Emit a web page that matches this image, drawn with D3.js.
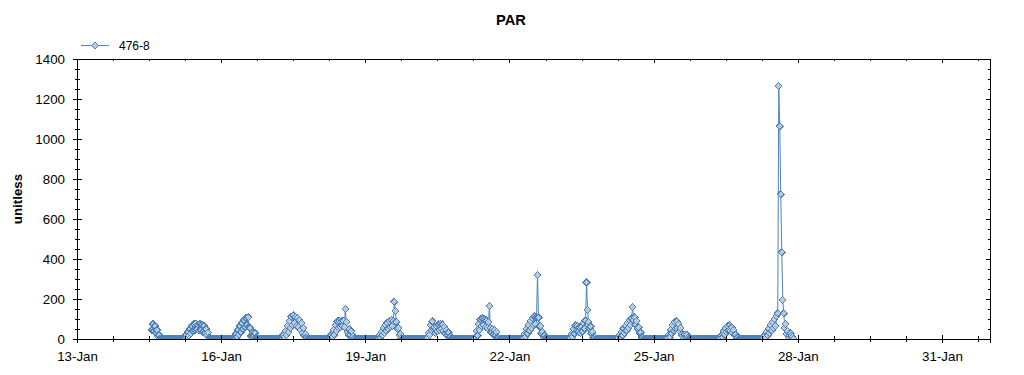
<!DOCTYPE html>
<html>
<head>
<meta charset="utf-8">
<script src="https://cdn.jsdelivr.net/npm/d3@7"></script>
<style>
  html, body { margin: 0; padding: 0; background: #fff; }
  svg { display: block; font-family: "Liberation Sans", Arial, sans-serif; }
</style>
</head>
<body>
<svg id="chart" width="1024" height="375"></svg>
<script>
// ---------------- DATA ----------------
const chartTitle = "PAR";
const yAxisTitle = "unitless";
const seriesName = "476-8";
const sampleStart = "2010-01-14T13:30";   // first sample
const stepMinutes = 30;                    // sampling interval

// values per day (half-hour samples; jan14 begins at 13:30, others at 00:00)
const jan14 = [45,75,40,65,30,45,12,20,0, 0,0,0,0,0,0,0,0,0,0,0,0];
const jan15 = [0,0,0,0,0,0,0,0,0,0,0,0,
  5,20,8,35,18,50,28,65,40,75,45,78,50,72,42,75,45,70,35,65,30,50,18,32,8,6,0,
  0,0,0,0,0,0,0,0,0];
const jan16 = [0,0,0,0,0,0,0,0,0,0,0,0,0,0,
  5,25,10,45,22,65,35,80,50,95,60,105,70,108,60,55,15,10,32,15,30,8,6,0,
  0,0,0,0,0,0,0,0,0,0];
const jan17 = [0,0,0,0,0,0,0,0,0,0,0,0,0,
  5,22,8,40,20,65,35,90,55,112,70,118,80,110,65,105,60,95,45,80,30,55,18,25,6,0,
  0,0,0,0,0,0,0,0,0];
const jan18 = [0,0,0,0,0,0,0,0,0,0,0,0,0,
  5,22,8,45,22,70,40,88,55,92,60,90,65,92,60,150,85,35,20,48,18,38,10,15,4,0,
  0,0,0,0,0,0,0,0,0];
const jan19 = [0,0,0,0,0,0,0,0,0,0,0,0,0,
  5,18,6,35,18,55,30,70,42,82,52,90,60,95,65,90,187,140,87,50,55,20,25,4,0,
  0,0,0,0,0,0,0,0,0,0];
const jan20 = [0,0,0,0,0,0,0,0,0,0,0,0,0,0,
  5,30,20,70,45,88,50,58,30,65,38,72,45,75,50,72,40,60,28,45,18,32,8,12,2,0,
  0,0,0,0,0,0,0,0];
const jan21 = [0,0,0,0,0,0,0,0,0,0,0,0,0,0,
  10,40,18,75,45,98,65,102,70,98,60,92,55,85,165,55,32,50,22,45,18,35,8,6,0,
  0,0,0,0,0,0,0,0,0];
const jan22 = [0,0,0,0,0,0,0,0,0,0,0,0,0,0,
  5,25,10,50,28,70,42,90,55,105,70,112,75,108,320,108,62,65,28,35,10,18,4,3,0,
  0,0,0,0,0,0,0,0,0];
const jan23 = [0,0,0,0,0,0,0,0,0,0,0,0,0,
  5,25,10,50,28,68,40,65,38,58,30,60,38,80,52,92,283,145,85,52,62,28,35,8,6,0,
  0,0,0,0,0,0,0,0,0];
const jan24 = [0,0,0,0,0,0,0,0,0,0,0,0,0,
  5,20,6,35,18,52,30,66,42,80,55,95,70,102,160,95,108,72,90,52,58,28,32,8,6,0,
  0,0,0,0,0,0,0,0,0];
const jan25 = [0,0,0,0,0,0,0,0,0,0,0,0,0,0,
  5,22,8,46,28,70,42,85,52,88,55,75,38,55,20,15,5,22,8,22,6,0,
  0,0,0,0,0,0,0,0,0,0,0,0];
const jan26 = [0,0,0,0,0,0,0,0,0,0,0,0,0,0,0,0,0,0,0,
  5,18,8,38,22,55,35,65,42,68,40,58,30,45,18,22,6,5,0,
  0,0,0,0,0,0,0,0,0,0];
const jan27 = [0,0,0,0,0,0,0,0,0,0,0,0,0,0,
  5,18,6,35,18,52,30,70,42,85,55,100,65,115,128,1265,1063,723,433,195,128,55,75,25,40,8,18,28,15,10,0];

const xDomain = ["2010-01-13T00:00", "2010-02-01T00:00"];
const xTickDates = ["2010-01-13T00:00","2010-01-16T00:00","2010-01-19T00:00","2010-01-22T00:00",
                    "2010-01-25T00:00","2010-01-28T00:00","2010-01-31T00:00"];
const xTickLabels = ["13-Jan","16-Jan","19-Jan","22-Jan","25-Jan","28-Jan","31-Jan"];
const xMinorStepHours = 18;
const yTicks = [0,200,400,600,800,1000,1200,1400];
const yMinorStep = 50;
const yMax = 1400;

// ---------------- BUILD ----------------
const parse = d3.utcParse("%Y-%m-%dT%H:%M");
const t0 = parse(sampleStart).getTime();
const allValues = [].concat(jan14, jan15, jan16, jan17, jan18, jan19, jan20,
                            jan21, jan22, jan23, jan24, jan25, jan26, jan27);
const data = allValues.map((v, i) => ({ t: new Date(t0 + i * stepMinutes * 60000), v }));

const lineColor = "#4f81bd";
const markerFill = "#b9cbd8";

const svg = d3.select("#chart");
const L = 77, R = 990, T = 59, B = 339;

const x = d3.scaleUtc().domain(xDomain.map(parse)).range([L, R]);
const y = d3.scaleLinear().domain([0, yMax]).range([B, T]);

// Title
svg.append("text").attr("x", 511).attr("y", 25).attr("text-anchor", "middle")
  .attr("font-size", "14.67px").attr("font-weight", "bold").text(chartTitle);

// Y axis title
svg.append("text").attr("transform", `translate(22,${(T + B) / 2}) rotate(-90)`)
  .attr("text-anchor", "middle").attr("font-size", "13.33px").attr("font-weight", "bold")
  .text(yAxisTitle);

// Legend
const lg = svg.append("g").attr("transform", "translate(81,45)");
lg.append("line").attr("x1", 0).attr("x2", 28).attr("y1", 0.5).attr("y2", 0.5)
  .attr("stroke", lineColor).attr("stroke-width", 1);
const diamond = "M0,-3.5L3.5,0L0,3.5L-3.5,0Z";
lg.append("path").attr("d", diamond).attr("transform", "translate(14,0.5)")
  .attr("fill", markerFill).attr("stroke", lineColor).attr("stroke-width", 1);
lg.append("text").attr("x", 38).attr("y", 5).attr("font-size", "12px").text(seriesName);

// Data (clipped to plot area)
svg.append("clipPath").attr("id", "plotclip").append("rect")
  .attr("x", L).attr("y", T).attr("width", R - L + 1).attr("height", B - T + 0.5);
const plot = svg.append("g").attr("clip-path", "url(#plotclip)");

const line = d3.line().x(d => x(d.t)).y(d => y(d.v));
plot.append("path").datum(data).attr("d", line).attr("fill", "none")
  .attr("stroke", lineColor).attr("stroke-width", 1);

plot.selectAll("path.mk").data(data).join("path").attr("class", "mk")
  .attr("d", diamond)
  .attr("transform", d => `translate(${x(d.t)},${y(d.v)})`)
  .attr("fill", markerFill).attr("stroke", lineColor).attr("stroke-width", 1)
  .attr("shape-rendering", "crispEdges");

// Axes
const majorX = xTickDates.map(parse);
const labelOf = new Map(majorX.map((d, i) => [+d, xTickLabels[i]]));
const xd = x.domain();
const minorX = d3.range(0, (xd[1] - xd[0]) / 3600000 + 1, xMinorStepHours)
  .map(h => new Date(+xd[0] + h * 3600000)).filter(d => !labelOf.has(+d));
const minorY = d3.range(0, yMax + 1, yMinorStep).filter(v => !yTicks.includes(v));

function styleAxis(g) {
  g.selectAll("path.domain").attr("stroke", "#000");
  g.selectAll("line").attr("stroke", "#000");
  g.attr("shape-rendering", "crispEdges");
}

// bottom
const gb = svg.append("g").attr("transform", `translate(0,${B})`)
  .call(d3.axisBottom(x).tickValues(majorX).tickFormat(d => labelOf.get(+d)).tickSizeOuter(0).tickSize(4));
gb.selectAll(".tick line").attr("y1", -4).attr("y2", 4);
gb.selectAll(".tick text").attr("y", 21.5).attr("dy", 0).attr("font-size", "13.33px")
  .attr("font-family", "Liberation Sans, Arial, sans-serif").attr("fill", "#000");
styleAxis(gb);
const gbm = svg.append("g").attr("transform", `translate(0,${B})`)
  .call(d3.axisBottom(x).tickValues(minorX).tickFormat("").tickSizeOuter(0).tickSize(3));
gbm.select("path.domain").remove();
gbm.selectAll(".tick line").attr("y1", -3).attr("y2", 3);
styleAxis(gbm);

// top
const gt = svg.append("g").attr("transform", `translate(0,${T})`)
  .call(d3.axisTop(x).tickValues(majorX).tickFormat("").tickSizeOuter(0).tickSize(-4));
styleAxis(gt);
const gtm = svg.append("g").attr("transform", `translate(0,${T})`)
  .call(d3.axisTop(x).tickValues(minorX).tickFormat("").tickSizeOuter(0).tickSize(-2));
gtm.select("path.domain").remove();
styleAxis(gtm);

// left
const gl = svg.append("g").attr("transform", `translate(${L},0)`)
  .call(d3.axisLeft(y).tickValues(yTicks).tickFormat(d3.format("d")).tickSizeOuter(0).tickSize(4));
gl.selectAll(".tick line").attr("x1", 5).attr("x2", -4);
gl.selectAll(".tick text").attr("x", -12).attr("dy", "0.36em").attr("font-size", "13.33px")
  .attr("font-family", "Liberation Sans, Arial, sans-serif").attr("fill", "#000");
styleAxis(gl);
const glm = svg.append("g").attr("transform", `translate(${L},0)`)
  .call(d3.axisLeft(y).tickValues(minorY).tickFormat("").tickSizeOuter(0).tickSize(2));
glm.select("path.domain").remove();
glm.selectAll(".tick line").attr("x1", 3).attr("x2", -2);
styleAxis(glm);

// right
const gr = svg.append("g").attr("transform", `translate(${R},0)`)
  .call(d3.axisRight(y).tickValues(yTicks).tickFormat("").tickSizeOuter(0).tickSize(-4));
styleAxis(gr);
const grm = svg.append("g").attr("transform", `translate(${R},0)`)
  .call(d3.axisRight(y).tickValues(minorY).tickFormat("").tickSizeOuter(0).tickSize(-2));
grm.select("path.domain").remove();
styleAxis(grm);
</script>
</body>
</html>
